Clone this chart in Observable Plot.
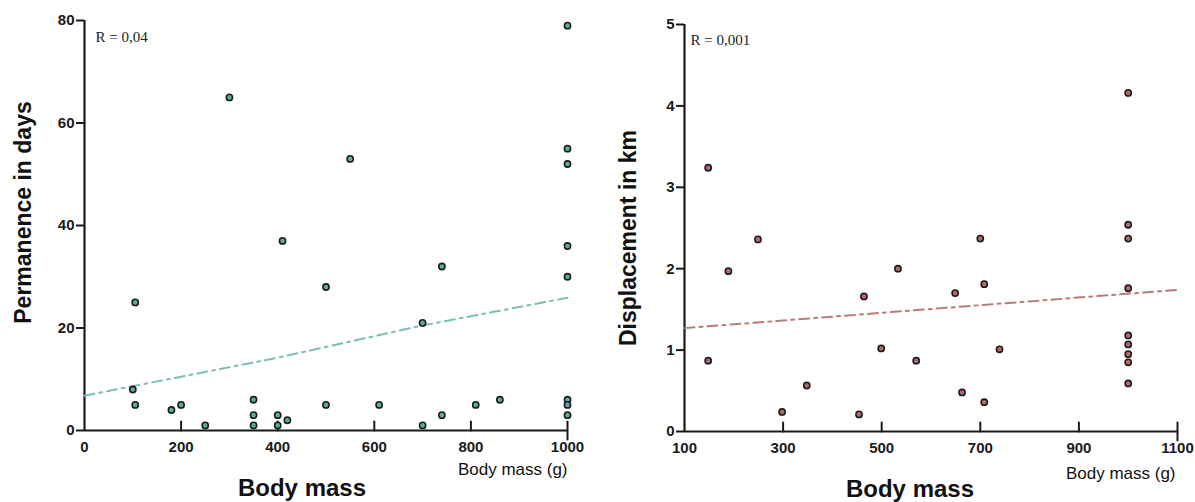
<!DOCTYPE html>
<html>
<head>
<meta charset="utf-8">
<script src="https://cdn.jsdelivr.net/npm/d3@7"></script>
<script src="https://cdn.jsdelivr.net/npm/@observablehq/plot@0.6"></script>
<style>
  html, body { margin: 0; padding: 0; background: #fff; }
  #wrap { display: flex; width: 1195px; height: 502px; }
  svg { font-family: "Liberation Sans", Arial, sans-serif; }
</style>
</head>
<body>
<div id="wrap"></div>
<script>
// ---- Left panel: permanence vs body mass ----
const massA = [100, 105, 105, 180, 200, 250, 300, 350, 350, 350, 400, 400, 420, 410, 500, 500, 550, 610, 700, 700, 740, 740, 810, 860, 1000, 1000, 1000, 1000, 1000, 1000, 1000, 1000];
const daysA = [8, 25, 5, 4, 5, 1, 65, 6, 3, 1, 3, 1, 2, 37, 28, 5, 53, 5, 21, 1, 32, 3, 5, 6, 79, 55, 52, 36, 30, 6, 5, 3];
const trendMassA = [0, 200, 400, 700, 1000];
const trendDaysA = [6.8, 10.5, 14.2, 20.5, 25.9];
const xTicksA = [0, 200, 400, 600, 800, 1000];
const yTicksA = [0, 20, 40, 60, 80];
const labelA = "R = 0,04";
const yTitleA = "Permanence in days";

// ---- Right panel: displacement vs body mass ----
const massB = [148, 249, 189, 148, 298, 348, 454, 464, 499, 533, 649, 708, 700, 570, 739, 663, 708, 1000, 1000, 1000, 1000, 1000, 1000, 1000, 1000, 1000];
const kmB = [3.24, 2.36, 1.97, 0.87, 0.24, 0.565, 0.21, 1.66, 1.02, 2.0, 1.70, 1.81, 2.37, 0.87, 1.01, 0.48, 0.36, 4.16, 2.54, 2.37, 1.76, 1.18, 1.07, 0.95, 0.85, 0.59];
const trendMassB = [100, 1100];
const trendKmB = [1.27, 1.74];
const xTicksB = [100, 300, 500, 700, 900, 1100];
const yTicksB = [0, 1, 2, 3, 4, 5];
const labelB = "R = 0,001";
const yTitleB = "Displacement in km";

const xTitleSmall = "Body mass (g)";
const xTitleBig = "Body mass";

const tickShape = {draw(ctx, l) { ctx.moveTo(0, 0); ctx.lineTo(0, -l); }};

function panel(cfg) {
  const pts = cfg.xs.map((x, i) => ({x, y: cfg.ys[i]}));
  const trend = cfg.tx.map((x, i) => ({x, y: cfg.ty[i]}));
  const axisColor = "#1a1a1a";
  const x0 = cfg.xTicks[0], x1 = cfg.xTicks[cfg.xTicks.length - 1];
  const y0 = cfg.yTicks[0], y1 = cfg.yTicks[cfg.yTicks.length - 1];
  return Plot.plot({
    width: cfg.width,
    height: 502,
    marginLeft: cfg.ml,
    marginRight: cfg.mr,
    marginTop: cfg.mt,
    marginBottom: cfg.mb,
    style: {background: "#fff", overflow: "visible"},
    x: {domain: [x0, x1]},
    y: {domain: [y0, y1]},
    marks: [
      // axis lines
      Plot.ruleX([x0], {stroke: axisColor, strokeWidth: 2.2}),
      Plot.ruleY([y0], {stroke: axisColor, strokeWidth: 2.2}),
      // y axis: outward ticks and bold labels
      Plot.axisY({ticks: cfg.yTicks, tickSize: 8, tickPadding: 2, strokeWidth: 2, stroke: axisColor,
        tickFormat: d => String(d), fontSize: 15, fontWeight: "bold", fill: "#1a1a1a", label: null}),
      // x axis: inward ticks
      Plot.vector(cfg.xTicks.slice(1, -1), {x: d => d, y: y0, length: 9, rotate: 0, anchor: "start",
        shape: tickShape, stroke: axisColor, strokeWidth: 2}),
      Plot.vector([x1], {x: d => d, y: y0, length: 18, rotate: 0, anchor: "middle",
        shape: tickShape, stroke: axisColor, strokeWidth: 2}),
      // x axis labels
      Plot.axisX({ticks: cfg.xTicks, tickSize: 0, tickPadding: 11, tickFormat: d => String(d),
        fontSize: 15, fontWeight: "bold", fill: "#1a1a1a", label: null}),
      // regression line
      Plot.line(trend, {x: "x", y: "y", stroke: cfg.lineColor, strokeWidth: 2, strokeDasharray: "10,5,3,5"}),
      // points
      Plot.dot(pts, {x: "x", y: "y", r: 3.1, fill: cfg.fill, stroke: "#1c1c1c", strokeWidth: 1.6}),
      // R annotation
      Plot.text([cfg.rLabel], {frameAnchor: "top-left", dx: cfg.rdx, dy: cfg.rdy, fontSize: 15,
        fontFamily: "Liberation Serif, Times New Roman, serif", fill: "#222", textAnchor: "start"}),
      // y title
      Plot.text([cfg.yTitle], {frameAnchor: "left", textAnchor: "middle", lineAnchor: "middle",
        dx: cfg.ytdx, dy: cfg.ytdy, rotate: -90, fontSize: 23, fontWeight: "bold", fill: "#111"}),
      // small x title
      Plot.text([xTitleSmall], {frameAnchor: "bottom-right", dx: cfg.xsdx, dy: cfg.xsdy, fontSize: 17,
        textAnchor: "end", fill: "#111"}),
      // big x title
      Plot.text([xTitleBig], {frameAnchor: "bottom", dx: cfg.xbdx, dy: cfg.xbdy, fontSize: 24,
        fontWeight: "bold", fill: "#111"})
    ]
  });
}

const wrap = document.getElementById("wrap");
wrap.appendChild(panel({
  width: 597, ml: 84, mr: 30, mt: 20, mb: 72,
  xs: massA, ys: daysA, tx: trendMassA, ty: trendDaysA,
  xTicks: xTicksA, yTicks: yTicksA, rLabel: labelA, yTitle: yTitleA,
  fill: "#5eaaa3", lineColor: "#7dbdb8",
  rdx: 11, rdy: 11, ytdx: -61, ytdy: -13, xsdx: 0, xsdy: 44, xbdx: -24, xbdy: 65
}));
wrap.appendChild(panel({
  width: 598, ml: 87, mr: 18, mt: 24, mb: 71,
  xs: massB, ys: kmB, tx: trendMassB, ty: trendKmB,
  xTicks: xTicksB, yTicks: yTicksB, rLabel: labelB, yTitle: yTitleB,
  fill: "#b56a6a", lineColor: "#b97b7b",
  rdx: 6, rdy: 10, ytdx: -56, ytdy: 10, xsdx: -2, xsdy: 47, xbdx: -21, xbdy: 65
}));
</script>
</body>
</html>
